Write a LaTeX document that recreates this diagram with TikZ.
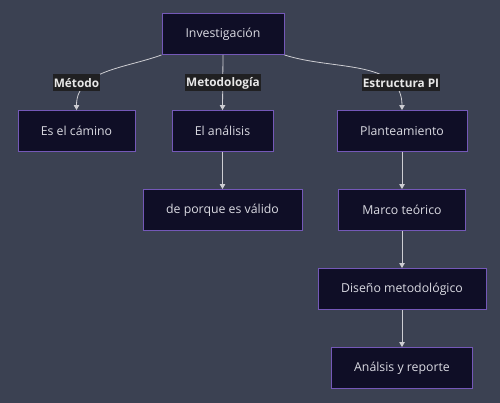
\documentclass[tikz,border=0pt]{standalone}
\usepackage{fontspec}
\setmainfont{Open Sans}
\usetikzlibrary{arrows.meta}
\definecolor{bg}{RGB}{59,65,82}
\definecolor{nodefill}{RGB}{15,14,38}
\definecolor{nodeline}{RGB}{116,88,184}
\definecolor{txt}{RGB}{218,218,226}
\definecolor{edgec}{RGB}{205,205,210}
\definecolor{lblbg}{RGB}{32,32,34}
\definecolor{lbltxt}{RGB}{232,232,232}
\tikzset{
  box/.style={draw=nodeline, line width=0.9pt, fill=nodefill, text=txt, font=\fontsize{12.3}{14}\selectfont, minimum height=41pt, inner sep=0pt},
  lbl/.style={fill=lblbg, text=lbltxt, font=\bfseries\fontsize{11.8}{13}\selectfont, inner sep=1pt, minimum height=17pt},
  edge/.style={draw=edgec, line width=0.8pt, -{Triangle[length=5pt,width=5.5pt]}},
}
\begin{document}
\begin{tikzpicture}[x=1pt,y=-1pt]
\fill[bg] (0,0) rectangle (500,403);
\useasboundingbox (0,0) rectangle (500,403);
\node[box, minimum width=122pt] (inv) at (223,34) {Investigación};
\node[box, minimum width=117pt] (es) at (76.5,131) {Es el cámino};
\node[box, minimum width=101pt] (an) at (222.5,131) {El análisis};
\node[box, minimum width=130pt] (pl) at (402,131) {Planteamiento};
\node[box, minimum width=159pt] (dp) at (222.5,210) {de porque es válido};
\node[box, minimum width=127pt] (mt) at (402,210) {Marco teórico};
\node[box, minimum width=168pt] (dm) at (402,289) {Diseño metodológico};
\node[box, minimum width=141pt] (ar) at (402,368) {Análsis y reporte};
\draw[edge] (inv.south west) to[out=200, in=90] (es.north);
\draw[edge] (inv.south) -- (an.north);
\draw[edge] (inv.south east) to[out=-18, in=90] (pl.north);
\draw[edge] (an.south) -- (dp.north);
\draw[edge] (pl.south) -- (mt.north);
\draw[edge] (mt.south) -- (dm.north);
\draw[edge] (dm.south) -- (ar.north);
\node[lbl] (l1) at (76.5,83) {Método};
\node[lbl] (l2) at (223,83) {Metodología};
\node[lbl] (l3) at (401,83) {Estructura PI};
\end{tikzpicture}
\end{document}
